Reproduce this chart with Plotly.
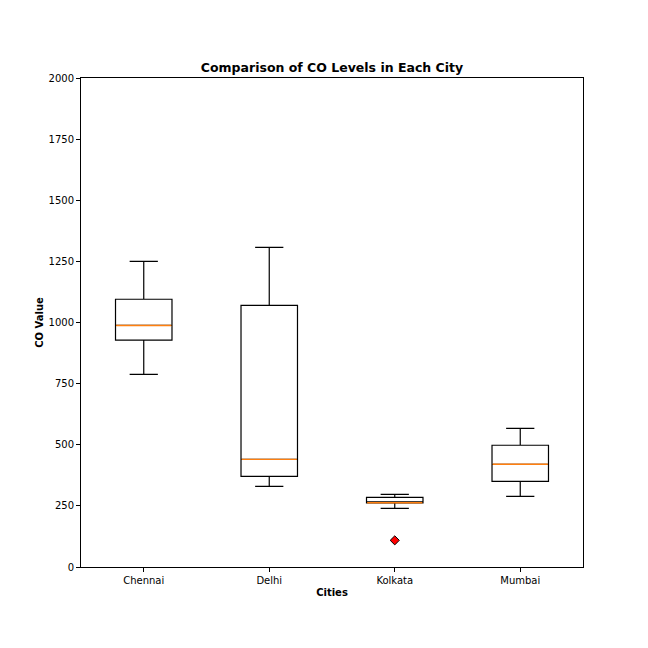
import plotly.graph_objects as go

# --- Box statistics (CO value) ---
cities = ["Chennai", "Delhi", "Kolkata", "Mumbai"]
lower_whisker = [788, 330, 240, 289]
q1 = [928, 371, 262, 350]
median = [988, 440, 263, 420]
q3 = [1095, 1070, 285, 498]
upper_whisker = [1250, 1307, 297, 567]

# fliers
outlier_city = ["Kolkata"]
outlier_value = [109]

positions = list(range(1, len(cities) + 1))
box_w = 0.45

fig = go.Figure()

for i, city in enumerate(cities):
    fig.add_trace(go.Box(
        x=[positions[i]],
        q1=[q1[i]], median=[median[i]], q3=[q3[i]],
        lowerfence=[lower_whisker[i]], upperfence=[upper_whisker[i]],
        width=box_w, whiskerwidth=0.5,
        line=dict(color="black", width=1.2),
        fillcolor="rgba(0,0,0,0)",
        boxpoints=False, hoverinfo="skip", name=city,
    ))
    # orange median line on top, like matplotlib
    fig.add_trace(go.Scatter(
        x=[positions[i] - box_w / 2 + 0.005, positions[i] + box_w / 2 - 0.005],
        y=[median[i], median[i]],
        mode="lines", line=dict(color="#ff7f0e", width=1.4),
        hoverinfo="skip",
    ))

fig.add_trace(go.Scatter(
    x=[positions[cities.index(c)] for c in outlier_city], y=outlier_value,
    mode="markers",
    marker=dict(symbol="diamond", color="red", size=7, line=dict(color="black", width=1)),
))

# page body has an 8px margin, so the figure is 640 wide and shifted by 8px
fig.update_layout(
    width=640, height=640,
    margin=dict(l=73, r=65, t=70, b=81),
    paper_bgcolor="white", plot_bgcolor="white",
    showlegend=False,
    font=dict(family="DejaVu Sans", size=10, color="black"),
    title=dict(text="<b>Comparison of CO Levels in Each City</b>",
               x=0.5, xanchor="center", xref="paper",
               y=1, yref="paper", yanchor="bottom", pad=dict(b=6),
               font=dict(size=12.5)),
)
fig.update_xaxes(
    range=[0.5, 4.5], tickvals=positions, ticktext=cities,
    title=dict(text="<b>Cities</b>", standoff=3, font=dict(size=10)),
    showline=True, linecolor="black", linewidth=1, mirror=True,
    ticks="outside", ticklen=4, tickcolor="black", showgrid=False, zeroline=False,
)
fig.update_yaxes(
    range=[0, 2000], tickvals=[0, 250, 500, 750, 1000, 1250, 1500, 1750, 2000],
    title=dict(text="<b>CO Value</b>", standoff=3, font=dict(size=10)),
    showline=True, linecolor="black", linewidth=1, mirror=True,
    ticks="outside", ticklen=4, tickcolor="black", showgrid=False, zeroline=False,
)

fig.write_html("out.html")
